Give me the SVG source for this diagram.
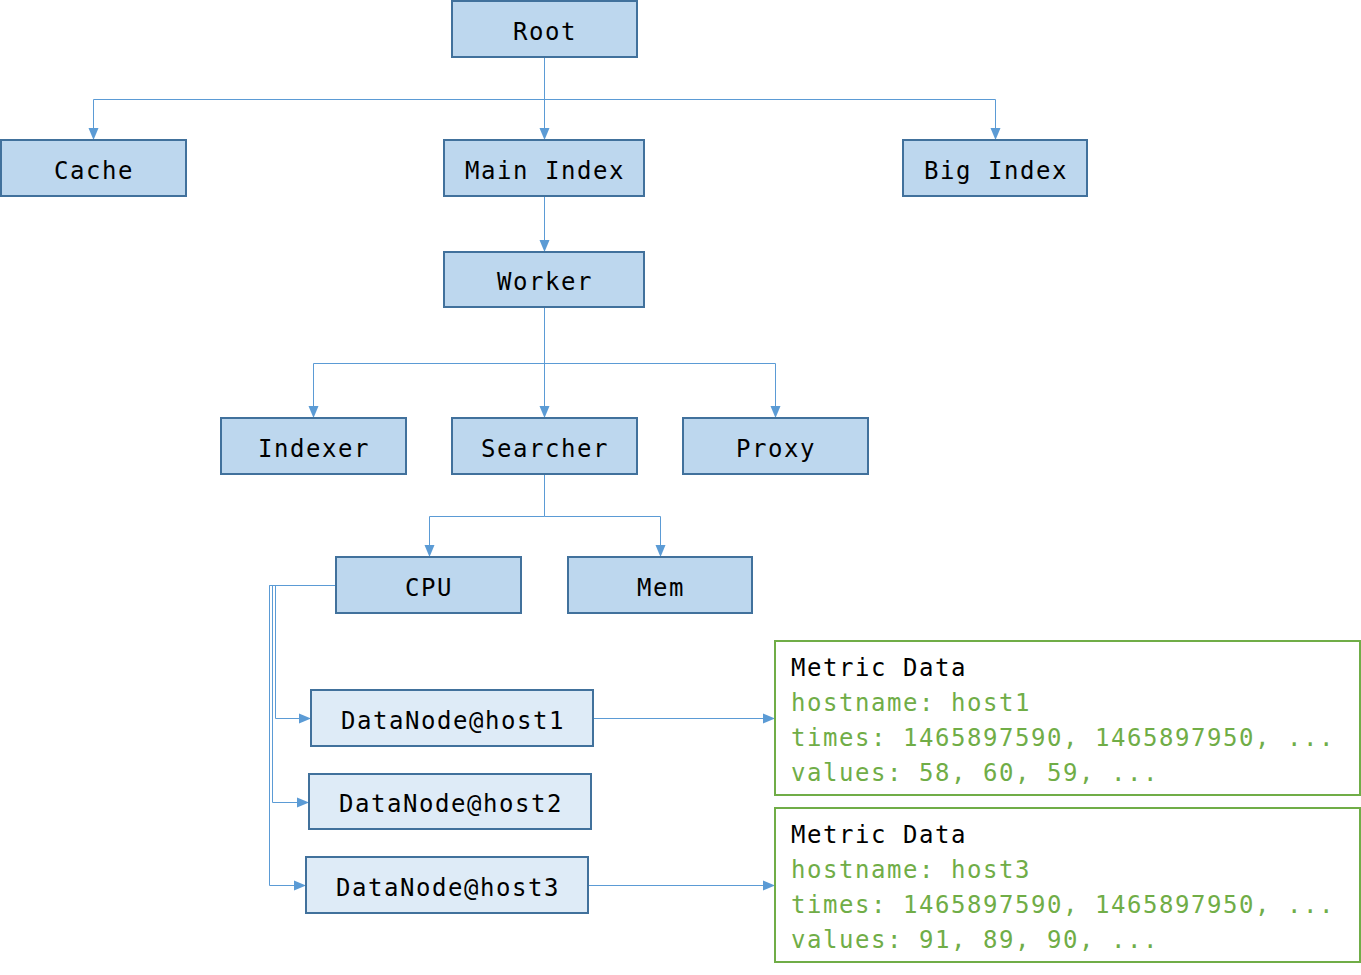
<svg xmlns="http://www.w3.org/2000/svg" width="1361" height="975" viewBox="0 0 1361 975">
<style>
.n{fill:#bdd7ee;stroke:#41719c;stroke-width:2}
.d{fill:#deebf7;stroke:#41719c;stroke-width:2}
.m{fill:#ffffff;stroke:#70ad47;stroke-width:2}
.t{font-family:"DejaVu Sans Mono","Liberation Mono",monospace;font-size:24px;letter-spacing:1.55px;fill:#000}
.c{text-anchor:middle}
.g{fill:#70ad47}
.e{fill:none;stroke:#5b9bd5;stroke-width:1}
</style>
<defs>
<marker id="a" viewBox="0 0 12 12" refX="12" refY="6" markerWidth="12" markerHeight="12" markerUnits="userSpaceOnUse" orient="auto">
<path d="M0,1 L12,6 L0,11 Z" fill="#5b9bd5"/>
</marker>
</defs>
<g id="connectors">
<path class="e" d="M544.5,57 V140" marker-end="url(#a)"/>
<path class="e" d="M93.5,140 V99.5 H995.5 V140" marker-end="url(#a)"/>
<path class="e" d="M93.5,110 V140" marker-end="url(#a)"/>
<path class="e" d="M544.5,196 V252" marker-end="url(#a)"/>
<path class="e" d="M544.5,307 V418" marker-end="url(#a)"/>
<path class="e" d="M313.5,418 V363.5 H775.5 V418" marker-end="url(#a)"/>
<path class="e" d="M313.5,400 V418" marker-end="url(#a)"/>
<path class="e" d="M544.5,474 V516.5 H660.5 V557" marker-end="url(#a)"/>
<path class="e" d="M544.5,516.5 H429.5 V557" marker-end="url(#a)"/>
<path class="e" d="M336,585.5 H269.5 V885.5 H306" marker-end="url(#a)"/>
<path class="e" d="M269.5,585.5 H272.5 V802.5 H309" marker-end="url(#a)"/>
<path class="e" d="M272.5,585.5 H275.5 V718.5 H311" marker-end="url(#a)"/>
<path class="e" d="M593,718.5 H775" marker-end="url(#a)"/>
<path class="e" d="M588,885.5 H775" marker-end="url(#a)"/>
</g>
<g id="root"><rect class="n" x="452" y="1" width="185" height="56"/><text class="t c" x="545" y="40">Root</text></g>
<g id="cache"><rect class="n" x="1" y="140" width="185" height="56"/><text class="t c" x="94" y="179">Cache</text></g>
<g id="main-index"><rect class="n" x="444" y="140" width="200" height="56"/><text class="t c" x="545" y="179">Main Index</text></g>
<g id="big-index"><rect class="n" x="903" y="140" width="184" height="56"/><text class="t c" x="996" y="179">Big Index</text></g>
<g id="worker"><rect class="n" x="444" y="252" width="200" height="55"/><text class="t c" x="545" y="290">Worker</text></g>
<g id="indexer"><rect class="n" x="221" y="418" width="185" height="56"/><text class="t c" x="314" y="457">Indexer</text></g>
<g id="searcher"><rect class="n" x="452" y="418" width="185" height="56"/><text class="t c" x="545" y="457">Searcher</text></g>
<g id="proxy"><rect class="n" x="683" y="418" width="185" height="56"/><text class="t c" x="776" y="457">Proxy</text></g>
<g id="cpu"><rect class="n" x="336" y="557" width="185" height="56"/><text class="t c" x="429" y="596">CPU</text></g>
<g id="mem"><rect class="n" x="568" y="557" width="184" height="56"/><text class="t c" x="661" y="596">Mem</text></g>
<g id="datanode1"><rect class="d" x="311" y="690" width="282" height="56"/><text class="t c" x="453" y="729">DataNode@host1</text></g>
<g id="datanode2"><rect class="d" x="309" y="774" width="282" height="55"/><text class="t c" x="451" y="812">DataNode@host2</text></g>
<g id="datanode3"><rect class="d" x="306" y="857" width="282" height="56"/><text class="t c" x="448" y="896">DataNode@host3</text></g>
<g id="metric1"><rect class="m" x="775" y="641" width="585" height="154"/>
<text class="t" x="791" y="676">Metric Data</text>
<text class="t g" x="791" y="711">hostname: host1</text>
<text class="t g" x="791" y="746">times: 1465897590, 1465897950, ...</text>
<text class="t g" x="791" y="781">values: 58, 60, 59, ...</text></g>
<g id="metric2"><rect class="m" x="775" y="808" width="585" height="154"/>
<text class="t" x="791" y="843">Metric Data</text>
<text class="t g" x="791" y="878">hostname: host3</text>
<text class="t g" x="791" y="913">times: 1465897590, 1465897950, ...</text>
<text class="t g" x="791" y="948">values: 91, 89, 90, ...</text></g>
</svg>
